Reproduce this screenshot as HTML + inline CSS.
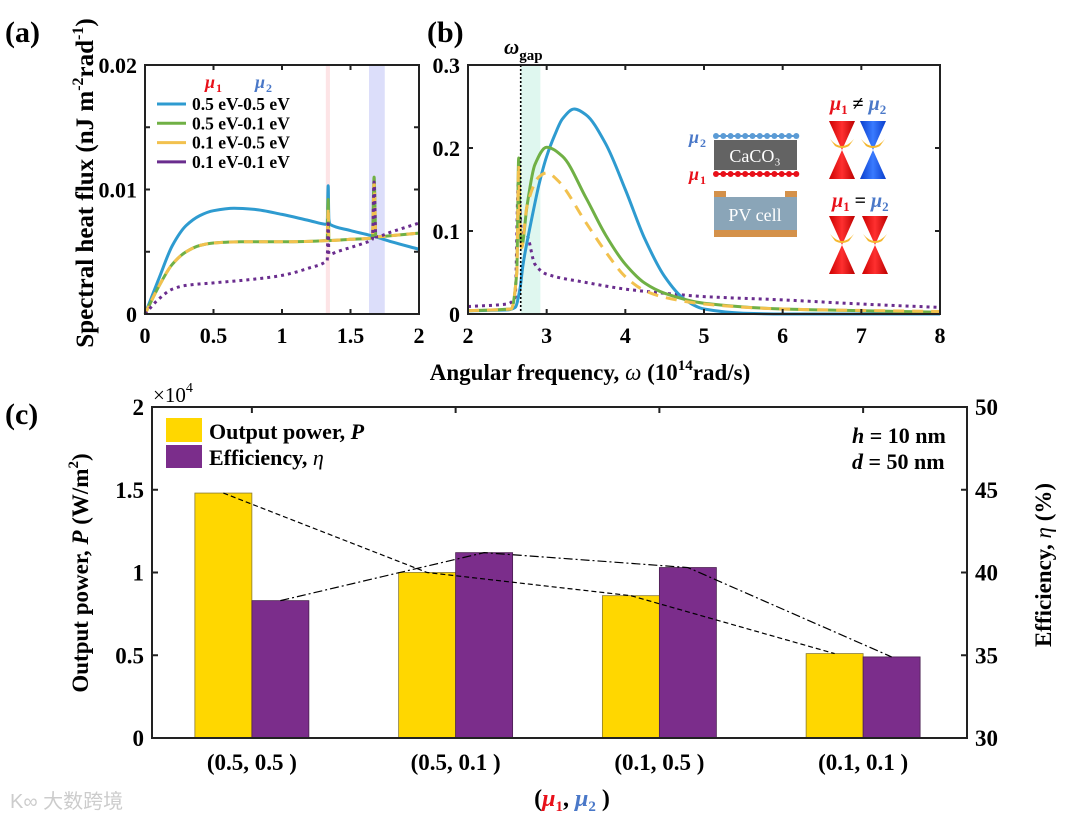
<!DOCTYPE html>
<html><head><meta charset="utf-8"><style>
body{margin:0;background:#fff}
svg text{font-family:"Liberation Serif",serif;font-weight:bold;fill:#000}
</style></head><body>
<svg id="s" width="1080" height="820" viewBox="0 0 1080 820" xmlns="http://www.w3.org/2000/svg">
<defs>
<linearGradient id="rg" x1="0" x2="1"><stop offset="0" stop-color="#c00"/><stop offset="0.5" stop-color="#ff3030"/><stop offset="1" stop-color="#b00"/></linearGradient>
<linearGradient id="bg" x1="0" x2="1"><stop offset="0" stop-color="#0a3ecc"/><stop offset="0.5" stop-color="#3a7bff"/><stop offset="1" stop-color="#0a3ecc"/></linearGradient>
</defs>
<g id="A"></g>
<g id="B"></g>
<g id="C"></g>
</svg>
<script>
// ---- Panel (a) data ----
const aBlueX=[0,0.1,0.2,0.3,0.4,0.5,0.65,0.8,1.0,1.2,1.33,1.337,1.342,1.35,1.5,1.65,1.8,2.0];
const aBlueY=[0,0.0028,0.0055,0.0071,0.0079,0.0083,0.0085,0.0084,0.0080,0.0075,0.0072,0.0103,0.0076,0.0072,0.0067,0.0063,0.0058,0.0052];
const aGreenX=[0,0.1,0.2,0.3,0.4,0.5,0.7,1.0,1.33,1.337,1.342,1.35,1.5,1.66,1.672,1.685,1.8,2.0];
const aGreenY=[0,0.0022,0.0040,0.0050,0.0055,0.0057,0.0058,0.0058,0.0059,0.0092,0.0060,0.0059,0.0060,0.0061,0.0110,0.0062,0.0063,0.0065];
const aYellowY=[0,0.0022,0.0040,0.0050,0.0055,0.0057,0.0058,0.0058,0.0059,0.0085,0.0060,0.0059,0.0060,0.0061,0.0105,0.0062,0.0063,0.0065];
const aPurpleX=[0,0.1,0.2,0.3,0.5,0.8,1.0,1.2,1.33,1.337,1.342,1.35,1.4,1.6,1.66,1.672,1.685,1.8,2.0];
const aPurpleY=[0,0.0012,0.0020,0.0023,0.0025,0.0028,0.0031,0.0037,0.0043,0.0075,0.0048,0.0048,0.0050,0.0057,0.0060,0.0106,0.0062,0.0066,0.0073];
const aXTicks=[0,0.5,1,1.5,2];
const aYTicks=[0,0.005,0.01,0.015,0.02];
const aYLabels=["0","","0.01","","0.02"];
// ---- Panel (b) data ----
const bBlueX=[2,2.5,2.6,2.66,2.7,2.8,2.9,3.0,3.1,3.2,3.35,3.5,3.75,4.0,4.25,4.5,4.75,5.0,5.5,6,8];
const bBlueY=[0.004,0.005,0.008,0.03,0.06,0.11,0.155,0.19,0.215,0.235,0.247,0.24,0.205,0.15,0.09,0.045,0.018,0.006,0.001,0,0];
const bGreenX=[2,2.55,2.62,2.645,2.66,2.68,2.75,2.85,3.0,3.2,3.5,3.75,4.0,4.25,4.5,5,6,7,8];
const bGreenY=[0.004,0.006,0.05,0.188,0.11,0.08,0.13,0.18,0.201,0.19,0.14,0.095,0.06,0.037,0.025,0.013,0.006,0.004,0.002];
const bYellowX=[2,2.55,2.62,2.645,2.66,2.68,2.75,2.9,3.0,3.15,3.5,3.75,4.0,4.25,4.5,5,6,8];
const bYellowY=[0.004,0.006,0.05,0.18,0.11,0.08,0.13,0.165,0.17,0.16,0.11,0.075,0.045,0.028,0.02,0.012,0.006,0.003];
const bPurpleX=[2,2.5,2.6,2.64,2.68,2.75,2.85,3.0,3.5,4.0,4.5,5,6,7,8];
const bPurpleY=[0.009,0.012,0.02,0.16,0.1,0.095,0.06,0.048,0.038,0.03,0.025,0.021,0.017,0.012,0.008];
const bXTicks=[2,3,4,5,6,7,8];
const bYTicks=[0,0.1,0.2,0.3];
const bYLabels=["0","0.1","0.2","0.3"];
const omegaGap=2.67;
// ---- Panel (c) data ----
const cCategories=["(0.5, 0.5 )","(0.5, 0.1 )","(0.1, 0.5 )","(0.1, 0.1 )"];
const cPower=[1.48,1.0,0.86,0.51];
const cEfficiency=[38.3,41.2,40.3,34.9];
const cLeftTicks=[0,0.5,1,1.5,2];
const cLeftLabels=["0","0.5","1","1.5","2"];
const cRightTicks=[30,35,40,45,50];

const NS="http://www.w3.org/2000/svg";
function mk(parent,tag,attrs,text){const e=document.createElementNS(NS,tag);for(const k in attrs)e.setAttribute(k,attrs[k]);if(text!==undefined)e.textContent=text;parent.appendChild(e);return e;}
function pathD(xs,ys,fx,fy){return xs.map((x,i)=>(i?'L':'M')+fx(x).toFixed(1)+','+fy(ys[i]).toFixed(1)).join('');}
// monotone cubic smoothing in pixel space
function smoothD(xs,ys,fx,fy){
 const P=xs.map((x,i)=>[fx(x),fy(ys[i])]);const n=P.length;
 const d=[],m=[];for(let i=0;i<n-1;i++){const dx=P[i+1][0]-P[i][0];d.push(dx?(P[i+1][1]-P[i][1])/dx:0);}
 for(let i=0;i<n;i++){if(i==0)m.push(d[0]);else if(i==n-1)m.push(d[n-2]);else m.push(d[i-1]*d[i]<=0?0:2/(1/d[i-1]+1/d[i]));}
 let s='M'+P[0][0].toFixed(1)+','+P[0][1].toFixed(1);
 for(let i=0;i<n-1;i++){const h=(P[i+1][0]-P[i][0])/3;s+='C'+(P[i][0]+h).toFixed(1)+','+(P[i][1]+m[i]*h).toFixed(1)+' '+(P[i+1][0]-h).toFixed(1)+','+(P[i+1][1]-m[i+1]*h).toFixed(1)+' '+P[i+1][0].toFixed(1)+','+P[i+1][1].toFixed(1);}
 return s;}

// ===== Panel A =====
const A=document.getElementById('A');
const aL=145,aR=419,aT=65,aB=314;
const ax=v=>aL+v/2*(aR-aL), ay=v=>aB-v/0.02*(aB-aT);
let e;
e=mk(A,'rect',{x:ax(1.32),y:aT,width:ax(1.35)-ax(1.32),height:aB-aT,fill:'#fde4e6'});


e=mk(A,'rect',{x:ax(1.635),y:aT,width:ax(1.75)-ax(1.635),height:aB-aT,fill:'#dcdefa'});


e=mk(A,'path',{d:smoothD(aBlueX,aBlueY,ax,ay),fill:'none',stroke:'#2e9bd0','stroke-width':3});


e=mk(A,'path',{d:smoothD(aGreenX,aGreenY,ax,ay),fill:'none',stroke:'#70b045','stroke-width':3});


e=mk(A,'path',{d:smoothD(aGreenX,aYellowY,ax,ay),fill:'none',stroke:'#f2c14e','stroke-width':3,'stroke-dasharray':'9,6'});


e=mk(A,'path',{d:smoothD(aPurpleX,aPurpleY,ax,ay),fill:'none',stroke:'#6a2d8e','stroke-width':3,'stroke-dasharray':'3,4'});


e=mk(A,'rect',{x:aL,y:aT,width:aR-aL,height:aB-aT,fill:'none',stroke:'#222','stroke-width':2});


aXTicks.forEach(t=>{mk(A,'line',{x1:ax(t),x2:ax(t),y1:aB,y2:aB-5,stroke:'#222','stroke-width':2});mk(A,'line',{x1:ax(t),x2:ax(t),y1:aT,y2:aT+5,stroke:'#222','stroke-width':2});
 e=mk(A,'text',{x:ax(t),y:aB+29,'font-size':22,'text-anchor':'middle'},String(t));
 
 });
aYTicks.forEach((t,i)=>{mk(A,'line',{x1:aL,x2:aL+5,y1:ay(t),y2:ay(t),stroke:'#222','stroke-width':2});mk(A,'line',{x1:aR,x2:aR-5,y1:ay(t),y2:ay(t),stroke:'#222','stroke-width':2});
 if(aYLabels[i]){e=mk(A,'text',{x:aL-8,y:ay(t)+8,'font-size':22,'text-anchor':'end'},aYLabels[i]);
 
 }});
// legend a
const legA=[['0.5 eV-0.5 eV','#2e9bd0'],['0.5 eV-0.1 eV','#70b045'],['0.1 eV-0.5 eV','#f2c14e'],['0.1 eV-0.1 eV','#6a2d8e']];
e=mk(A,'text',{x:205,y:88,'font-size':18,'font-style':'italic',style:'fill:#e8101a'},'μ');


mk(A,'text',{x:216,y:92,'font-size':12,style:'fill:#e8101a'},'1');
e=mk(A,'text',{x:255,y:88,'font-size':18,'font-style':'italic',style:'fill:#4a78c8'},'μ');


mk(A,'text',{x:266,y:92,'font-size':12,style:'fill:#4a78c8'},'2');
legA.forEach((l,i)=>{const y=104+i*19.3;mk(A,'line',{x1:157,x2:186,y1:y,y2:y,stroke:l[1],'stroke-width':3});
 e=mk(A,'text',{x:192,y:y+6,'font-size':17.5},l[0]);
 
 });
e=mk(A,'text',{x:5,y:42,'font-size':30},'(a)');


e=mk(A,'text',{transform:'translate(93,183) rotate(-90)','font-size':25,'text-anchor':'middle'});


e.innerHTML='Spectral heat flux (nJ m<tspan dy="-10" font-size="16">-2</tspan><tspan dy="10">rad</tspan><tspan dy="-10" font-size="16">-1</tspan><tspan dy="10">)</tspan>';

// ===== Panel B =====
const B=document.getElementById('B');
const bL=468,bR=940,bT=65,bB=314;
const bx=v=>bL+(v-2)/6*(bR-bL), by=v=>bB-v/0.3*(bB-bT);
e=mk(B,'rect',{x:bx(omegaGap),y:bT,width:bx(2.92)-bx(omegaGap),height:bB-bT,fill:'#dff7ef'});


e=mk(B,'path',{d:smoothD(bPurpleX,bPurpleY,bx,by),fill:'none',stroke:'#6a2d8e','stroke-width':3,'stroke-dasharray':'3,4'});


e=mk(B,'path',{d:smoothD(bBlueX,bBlueY,bx,by),fill:'none',stroke:'#2e9bd0','stroke-width':3});


e=mk(B,'path',{d:smoothD(bGreenX,bGreenY,bx,by),fill:'none',stroke:'#70b045','stroke-width':3});


e=mk(B,'path',{d:smoothD(bYellowX,bYellowY,bx,by),fill:'none',stroke:'#f2c14e','stroke-width':3,'stroke-dasharray':'11,8'});


e=mk(B,'line',{x1:bx(omegaGap),x2:bx(omegaGap),y1:bT,y2:bB,stroke:'#000','stroke-width':1.6,'stroke-dasharray':'2,2'});


e=mk(B,'rect',{x:bL,y:bT,width:bR-bL,height:bB-bT,fill:'none',stroke:'#222','stroke-width':2});


bXTicks.forEach(t=>{mk(B,'line',{x1:bx(t),x2:bx(t),y1:bB,y2:bB-5,stroke:'#222','stroke-width':2});mk(B,'line',{x1:bx(t),x2:bx(t),y1:bT,y2:bT+5,stroke:'#222','stroke-width':2});
 e=mk(B,'text',{x:bx(t),y:bB+29,'font-size':22,'text-anchor':'middle'},String(t));
 
 });
bYTicks.forEach((t,i)=>{mk(B,'line',{x1:bL,x2:bL+5,y1:by(t),y2:by(t),stroke:'#222','stroke-width':2});mk(B,'line',{x1:bR,x2:bR-5,y1:by(t),y2:by(t),stroke:'#222','stroke-width':2});
 e=mk(B,'text',{x:bL-8,y:by(t)+8,'font-size':22,'text-anchor':'end'},bYLabels[i]);
 
 });
e=mk(B,'text',{x:427,y:42,'font-size':30},'(b)');


e=mk(B,'text',{x:504,y:54,'font-size':21,'font-style':'italic'});


e.innerHTML='ω<tspan dy="6" font-size="15" font-style="normal">gap</tspan>';
// schematic
const sch=mk(B,'g',{});


mk(sch,'line',{x1:715,x2:797,y1:136,y2:136,stroke:'#5b9bd5','stroke-width':2});
for(let i=0;i<12;i++)mk(sch,'circle',{cx:716+i*7.3,cy:136,r:3,fill:'#5b9bd5'});
mk(sch,'rect',{x:714,y:140,width:83,height:30,fill:'#636363'});
mk(sch,'text',{x:755,y:162,'font-size':18,'text-anchor':'middle',style:'fill:#fff;font-weight:normal'},'CaCO₃');
mk(sch,'line',{x1:715,x2:797,y1:174,y2:174,stroke:'#e8101a','stroke-width':2});
for(let i=0;i<12;i++)mk(sch,'circle',{cx:716+i*7.3,cy:174,r:3,fill:'#e8101a'});
mk(sch,'text',{x:689,y:143,'font-size':18,'font-style':'italic',style:'fill:#4a78c8'},'μ');
mk(sch,'text',{x:700,y:147,'font-size':12,style:'fill:#4a78c8'},'2');
mk(sch,'text',{x:689,y:180,'font-size':18,'font-style':'italic',style:'fill:#e8101a'},'μ');
mk(sch,'text',{x:700,y:184,'font-size':12,style:'fill:#e8101a'},'1');
mk(sch,'rect',{x:714,y:191,width:12,height:6,fill:'#d4914a'});
mk(sch,'rect',{x:785,y:191,width:12,height:6,fill:'#d4914a'});
mk(sch,'rect',{x:714,y:197,width:83,height:33,fill:'#8aa5b8'});
mk(sch,'rect',{x:714,y:230,width:83,height:7,fill:'#d4914a'});
mk(sch,'text',{x:755,y:221,'font-size':18,'text-anchor':'middle',style:'fill:#fff;font-weight:normal'},'PV cell');
function cone(cx,cy,fill){mk(sch,'path',{d:`M${cx-13},${cy-29}L${cx+13},${cy-29}L${cx},${cy}Z`,fill:fill});mk(sch,'path',{d:`M${cx-13},${cy+29}L${cx+13},${cy+29}L${cx},${cy}Z`,fill:fill});mk(sch,'path',{d:`M${cx-12},${cy-11}Q${cx},${cy+3} ${cx+12},${cy-11}L${cx+7},${cy-4}Q${cx},${cy} ${cx-7},${cy-4}Z`,fill:'#f5b830'});}
cone(842,150,'url(#rg)');cone(873,150,'url(#bg)');cone(842,245,'url(#rg)');cone(875,245,'url(#rg)');
e=mk(sch,'text',{x:830,y:110,'font-size':20,'font-style':'italic'});
e.innerHTML='<tspan style="fill:#e8101a">μ</tspan><tspan dy="4" font-size="13" font-style="normal" style="fill:#e8101a">1</tspan><tspan dy="-4" font-style="normal"> ≠ </tspan><tspan style="fill:#4a78c8">μ</tspan><tspan dy="4" font-size="13" font-style="normal" style="fill:#4a78c8">2</tspan>';
e=mk(sch,'text',{x:832,y:207,'font-size':20,'font-style':'italic'});
e.innerHTML='<tspan style="fill:#e8101a">μ</tspan><tspan dy="4" font-size="13" font-style="normal" style="fill:#e8101a">1</tspan><tspan dy="-4" font-style="normal"> = </tspan><tspan style="fill:#4a78c8">μ</tspan><tspan dy="4" font-size="13" font-style="normal" style="fill:#4a78c8">2</tspan>';
e=mk(B,'text',{x:590,y:380,'font-size':23,'text-anchor':'middle'});


e.innerHTML='Angular frequency, <tspan font-style="italic" font-weight="normal">ω</tspan> (10<tspan dy="-10" font-size="15">14</tspan><tspan dy="10">rad/s)</tspan>';

// ===== Panel C =====
const C=document.getElementById('C');
const cL=152,cR=967,cT=407,cB=738;
const band=(cR-cL)/cCategories.length, bw=57;
const cx=i=>cL+(i+0.5)*band-2;
const pyL=v=>cB-v/2*(cB-cT), pyR=v=>cB-(v-30)/20*(cB-cT);
cPower.forEach((v,i)=>{e=mk(C,'rect',{x:cx(i)-bw,y:pyL(v),width:bw,height:cB-pyL(v),fill:'#ffd700',stroke:'#8a7a30','stroke-width':0.8});
 
 });
cEfficiency.forEach((v,i)=>{e=mk(C,'rect',{x:cx(i),y:pyR(v),width:bw,height:cB-pyR(v),fill:'#7b2d8b',stroke:'#4a2050','stroke-width':0.8});
 
 });
e=mk(C,'path',{d:cPower.map((v,i)=>(i?'L':'M')+(cx(i)-bw/2)+','+pyL(v)).join(''),fill:'none',stroke:'#000','stroke-width':1.2,'stroke-dasharray':'5,3'});


e=mk(C,'path',{d:cEfficiency.map((v,i)=>(i?'L':'M')+(cx(i)+bw/2)+','+pyR(v)).join(''),fill:'none',stroke:'#000','stroke-width':1.2,'stroke-dasharray':'9,3,2,3'});


e=mk(C,'path',{d:`M${cL},${cT}V${cB}H${cR}V${cT}Z`,fill:'none',stroke:'#222','stroke-width':2});


cCategories.forEach((c,i)=>{mk(C,'line',{x1:cx(i),x2:cx(i),y1:cT,y2:cT+6,stroke:'#222','stroke-width':2});
 e=mk(C,'text',{x:cx(i),y:cB+32,'font-size':23,'text-anchor':'middle'},c);
 
 });
cLeftTicks.forEach((t,i)=>{mk(C,'line',{x1:cL,x2:cL+6,y1:pyL(t),y2:pyL(t),stroke:'#222','stroke-width':2});
 e=mk(C,'text',{x:cL-8,y:pyL(t)+8,'font-size':23,'text-anchor':'end'},cLeftLabels[i]);
 
 });
cRightTicks.forEach(t=>{mk(C,'line',{x1:cR,x2:cR-6,y1:pyR(t),y2:pyR(t),stroke:'#222','stroke-width':2});
 e=mk(C,'text',{x:cR+8,y:pyR(t)+8,'font-size':23},String(t));
 
 });
e=mk(C,'text',{x:153,y:402,'font-size':21,style:'font-weight:normal'});


e.innerHTML='×10<tspan dy="-10" font-size="14">4</tspan>';
e=mk(C,'rect',{x:166,y:418,width:36,height:24,fill:'#ffd700'});


e=mk(C,'rect',{x:166,y:445,width:36,height:23,fill:'#7b2d8b'});


e=mk(C,'text',{x:209,y:439,'font-size':22});


e.innerHTML='Output power, <tspan font-style="italic">P</tspan>';
e=mk(C,'text',{x:209,y:465,'font-size':22});


e.innerHTML='Efficiency, <tspan font-style="italic" font-weight="normal">η</tspan>';
e=mk(C,'text',{x:852,y:443,'font-size':22});


e.innerHTML='<tspan font-style="italic">h</tspan>  = 10 nm';
e=mk(C,'text',{x:852,y:469,'font-size':22});


e.innerHTML='<tspan font-style="italic">d</tspan>  = 50 nm';
e=mk(C,'text',{x:5,y:424,'font-size':30},'(c)');


e=mk(C,'text',{transform:'translate(88,573) rotate(-90)','font-size':23,'text-anchor':'middle'});


e.innerHTML='Output power, <tspan font-style="italic">P</tspan> (W/m<tspan dy="-10" font-size="15">2</tspan><tspan dy="10">)</tspan>';
e=mk(C,'text',{transform:'translate(1051,565) rotate(-90)','font-size':23,'text-anchor':'middle'});


e.innerHTML='Efficiency, <tspan font-style="italic" font-weight="normal">η</tspan> (%)';
e=mk(C,'text',{x:572,y:806,'font-size':24,'text-anchor':'middle'});


e.innerHTML='(<tspan font-style="italic" style="fill:#e8101a">μ</tspan><tspan dy="5" font-size="15" style="fill:#e8101a">1</tspan><tspan dy="-5">, </tspan><tspan font-style="italic" style="fill:#4a78c8">μ</tspan><tspan dy="5" font-size="15" style="fill:#4a78c8">2</tspan><tspan dy="-5"> )</tspan>';
e=mk(C,'text',{x:10,y:808,'font-size':20,style:'fill:#ccc;font-weight:normal;font-family:\'Liberation Sans\',\'Noto Sans CJK SC\',sans-serif'},'K∞ 大数跨境');


</script>
</body></html>
